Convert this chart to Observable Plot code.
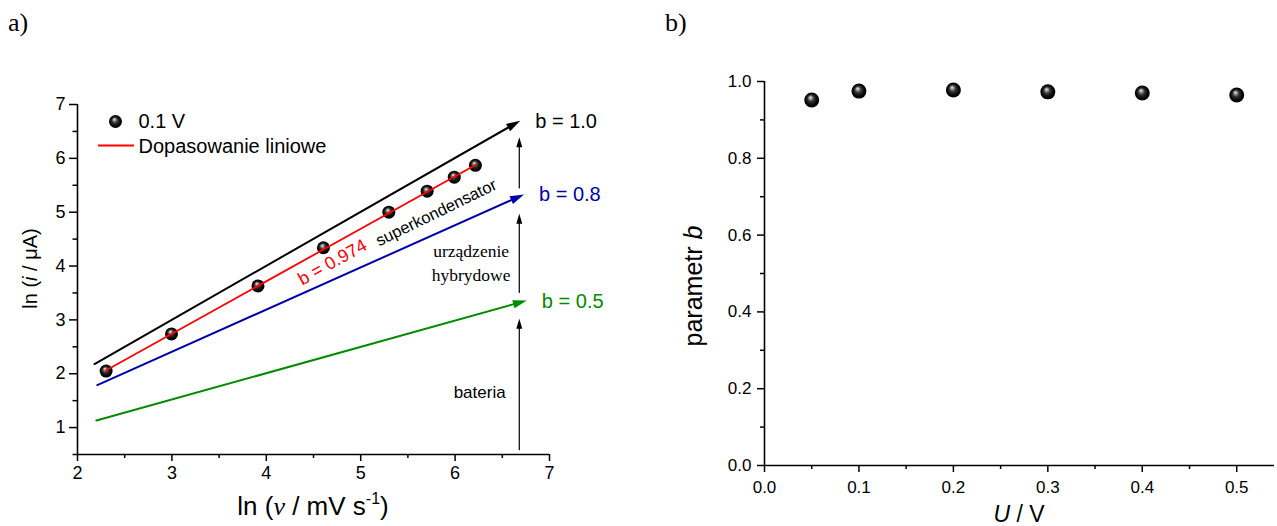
<!DOCTYPE html>
<html><head><meta charset="utf-8">
<script src="https://cdn.jsdelivr.net/npm/d3@7"></script>
<script src="https://cdn.jsdelivr.net/npm/@observablehq/plot@0.6"></script>
<style>
html,body{margin:0;padding:0;background:#fff;}
#wrap{position:relative;width:1277px;height:526px;overflow:hidden;background:#fff;}
#a,#b{position:absolute;top:0;}
#a{left:0;} #b{left:640px;}
</style></head><body>
<div id="wrap"><div id="a"></div><div id="b"></div></div>
<script>
// ---------- data: panel a ----------
const lnScanRate = [2.303, 2.996, 3.912, 4.605, 5.298, 5.704, 5.991, 6.215];
const lnCurrent  = [2.05, 2.74, 3.63, 4.34, 5.00, 5.39, 5.65, 5.87];
const fitX = [2.30, 6.22];
const fitY = [2.06, 5.88];
const fitLabel = "b = 0.974";
const refB = [1.0, 0.8, 0.5];
const refLabels = ["b = 1.0", "b = 0.8", "b = 0.5"];
const refX1 = [2.18, 2.21, 2.20];
const refY1 = [2.18, 1.79, 1.13];
const refX2 = [6.69, 6.73, 6.76];
const refY2 = [6.70, 5.33, 3.36];
const regionArrowX  = 6.68;
const regionArrowY1 = [0.59, 3.51, 5.45];
const regionArrowY2 = [3.02, 4.97, 6.39];
const xTicksA = [2, 3, 4, 5, 6, 7];
const xMinorA = [2.5, 3.5, 4.5, 5.5, 6.5];
const yTicksA = [1, 2, 3, 4, 5, 6, 7];
const yMinorA = [0.5, 1.5, 2.5, 3.5, 4.5, 5.5, 6.5];
const legendPoint = "0.1 V";
const legendFit = "Dopasowanie liniowe";

// ---------- data: panel b ----------
const voltage = [0.05, 0.1, 0.2, 0.3, 0.4, 0.5];
const paramB  = [0.952, 0.975, 0.978, 0.973, 0.970, 0.965];
const xTicksB = [0, 0.1, 0.2, 0.3, 0.4, 0.5];
const xMinorB = [0.05, 0.15, 0.25, 0.35, 0.45];
const yTicksB = [0, 0.2, 0.4, 0.6, 0.8, 1.0];
const yMinorB = [0.1, 0.3, 0.5, 0.7, 0.9];

// ---------- styling ----------
const refColors = ["#000000", "#0000a8", "#008a00"];
const SANS = "'Liberation Sans', Arial, sans-serif";
const SERIF = "'Liberation Serif', 'Times New Roman', serif";

const pointsA = lnScanRate.map((x, i) => ({x, y: lnCurrent[i]}));
const refs = refB.map((b, i) => ({b, label: refLabels[i], x1: refX1[i], y1: refY1[i], x2: refX2[i], y2: refY2[i], color: refColors[i]}));
const regionArrows = regionArrowY1.map((y1, i) => ({x: regionArrowX, y1, y2: regionArrowY2[i]}));
const pointsB = voltage.map((u, i) => ({u, b: paramB[i]}));

const headSym = (len, half) => ({draw(ctx) { ctx.moveTo(0, 0); ctx.lineTo(half, len); ctx.lineTo(-half, len); ctx.closePath(); }});
const lineSym = {draw(ctx) { ctx.moveTo(-18, 0); ctx.lineTo(18, 0); }};

// geometry of panel a (for arrowhead orientation)
const A = {w: 640, h: 526, ml: 77, mr: 91, mt: 104, mb: 72};
const sxA = Plot.scale({x: {domain: [2, 7], range: [A.ml, A.w - A.mr]}});
const syA = Plot.scale({y: {domain: [0.5, 7], range: [A.h - A.mb, A.mt]}});
const angle = (d) => Math.atan2(syA.apply(d.y2) - syA.apply(d.y1), sxA.apply(d.x2) - sxA.apply(d.x1)) * 180 / Math.PI + 90;

const plotA = Plot.plot({
  width: A.w, height: A.h, marginLeft: A.ml, marginRight: A.mr, marginTop: A.mt, marginBottom: A.mb,
  x: {domain: [2, 7]}, y: {domain: [0.5, 7]},
  style: {fontFamily: SANS, fontSize: "18px", color: "#000", background: "transparent", overflow: "visible"},
  marks: [
    Plot.ruleX([2], {y1: 0.5, y2: 7, strokeWidth: 1.6}),
    Plot.ruleY([0.5], {x1: 2, x2: 7, strokeWidth: 1.6}),
    Plot.axisX(xTicksA, {anchor: "bottom", tickSize: 7, tickPadding: 5, fontSize: 18, strokeWidth: 1.5, label: null, tickFormat: d => String(d)}),
    Plot.axisX(xMinorA, {anchor: "bottom", tickSize: 4, strokeWidth: 1.5, label: null, tickFormat: () => ""}),
    Plot.axisY(yTicksA, {anchor: "left", tickSize: 8, tickPadding: 4, fontSize: 18, strokeWidth: 1.5, label: null, tickFormat: d => String(d)}),
    Plot.axisY(yMinorA, {anchor: "left", tickSize: 4.5, strokeWidth: 1.5, label: null, tickFormat: () => ""}),
    // reference slope lines with arrowheads
    Plot.arrow(refs, {x1: "x1", y1: "y1", x2: "x2", y2: "y2", stroke: "color", strokeWidth: 2, headLength: 0, insetEnd: 8}),
    Plot.dot(refs, {x: "x2", y: "y2", fill: "color", stroke: null, symbol: headSym(14, 4.2), rotate: angle, r: 5}),
    Plot.text(refs, {x: "x2", y: "y2", text: "label", fill: "color", dx: 15, dy: 7, textAnchor: "start", lineAnchor: "bottom", fontSize: 20}),
    // vertical region arrows
    Plot.arrow(regionArrows, {x1: "x", x2: "x", y1: "y1", y2: "y2", stroke: "#000", strokeWidth: 1.2, headLength: 0, insetEnd: 6}),
    Plot.dot(regionArrows, {x: "x", y: "y2", fill: "#000", stroke: null, symbol: headSym(10, 3), r: 4}),
    // data and fit
    Plot.dot(pointsA, {x: "x", y: "y", r: 6.5, fill: "url(#ballA)", stroke: null}),
    Plot.line(fitX.map((x, i) => ({x, y: fitY[i]})), {x: "x", y: "y", stroke: "#ff0000", strokeWidth: 1.8}),
    Plot.text([fitLabel], {x: 4.70, y: 4.07, text: d => d, fill: "#ff0000", rotate: -29, fontSize: 18}),
    // region annotations
    Plot.text(["superkondensator"], {x: 5.80, y: 4.99, text: d => d, rotate: -26, fontSize: 16.5}),
    Plot.text(["urządzenie", "hybrydowe"], {x: 6.17, y: [4.16, 3.73], text: d => d, fontFamily: SERIF, fontSize: 17.5, lineAnchor: "bottom"}),
    Plot.text(["bateria"], {x: 6.26, y: 1.55, text: d => d, fontSize: 17, lineAnchor: "bottom"}),
    // legend
    Plot.dot([legendPoint], {frameAnchor: "top-left", dx: 38, dy: 17, r: 6.5, fill: "url(#ballA)", stroke: null}),
    Plot.text([legendPoint], {frameAnchor: "top-left", dx: 61, dy: 23, text: d => d, textAnchor: "start", lineAnchor: "bottom", fontSize: 20}),
    Plot.dot([legendFit], {frameAnchor: "top-left", dx: 38.5, dy: 41, symbol: lineSym, stroke: "#ff0000", strokeWidth: 1.8, fill: "none", r: 5}),
    Plot.text([legendFit], {frameAnchor: "top-left", dx: 61, dy: 48, text: d => d, textAnchor: "start", lineAnchor: "bottom", fontSize: 20})
  ]
});

const B = {w: 637, h: 526, ml: 124, mr: 3, mt: 81, mb: 61};
const fmt1 = d3.format(".1f");
const plotB = Plot.plot({
  width: B.w, height: B.h, marginLeft: B.ml, marginRight: B.mr, marginTop: B.mt, marginBottom: B.mb,
  x: {domain: [0, 0.54]}, y: {domain: [0, 1]},
  style: {fontFamily: SANS, fontSize: "17px", color: "#000", background: "transparent", overflow: "visible"},
  marks: [
    Plot.ruleX([0], {y1: 0, y2: 1, strokeWidth: 1.6}),
    Plot.ruleY([0], {x1: 0, x2: 0.54, strokeWidth: 1.6}),
    Plot.axisX(xTicksB, {anchor: "bottom", tickSize: 7, tickPadding: 8, fontSize: 17, strokeWidth: 1.5, label: null, tickFormat: fmt1}),
    Plot.axisX(xMinorB, {anchor: "bottom", tickSize: 4, strokeWidth: 1.5, label: null, tickFormat: () => ""}),
    Plot.axisY(yTicksB, {anchor: "left", tickSize: 7, tickPadding: 6, fontSize: 17, strokeWidth: 1.5, label: null, tickFormat: fmt1}),
    Plot.axisY(yMinorB, {anchor: "left", tickSize: 4, strokeWidth: 1.5, label: null, tickFormat: () => ""}),
    Plot.dot(pointsB, {x: "u", y: "b", r: 7.5, fill: "url(#ballB)", stroke: null})
  ]
});

function addBall(svg, id) {
  d3.select(svg).insert("defs", ":first-child").html(
    `<radialGradient id="${id}" cx="0.5" cy="0.5" r="0.5" fx="0.4" fy="0.32">
       <stop offset="0" stop-color="#f2f2f2"/>
       <stop offset="0.16" stop-color="#a8a8a8"/>
       <stop offset="0.45" stop-color="#303030"/>
       <stop offset="0.8" stop-color="#050505"/>
       <stop offset="1" stop-color="#000"/>
     </radialGradient>`);
}
addBall(plotA, "ballA");
addBall(plotB, "ballB");

// axis titles and panel labels (rich text)
const sa = d3.select(plotA);
const yl = sa.append("text").attr("transform", "translate(37,268.5) rotate(-90)")
  .attr("text-anchor", "middle").attr("font-family", SANS).attr("font-size", 20).attr("fill", "#000");
yl.append("tspan").text("ln (");
yl.append("tspan").attr("font-style", "italic").text("i");
yl.append("tspan").text(" / μA)");
const xl = sa.append("text").attr("x", 313).attr("y", 515)
  .attr("text-anchor", "middle").attr("font-family", SANS).attr("font-size", 26).attr("fill", "#000");
xl.append("tspan").text("ln (");
xl.append("tspan").attr("font-family", SERIF).attr("font-style", "italic").text("ν");
xl.append("tspan").text(" / mV s");
xl.append("tspan").attr("font-size", 16).attr("dy", -11).text("-1");
xl.append("tspan").attr("dy", 11).text(")");
sa.append("text").attr("x", 8).attr("y", 31).attr("text-anchor", "start").attr("font-family", SERIF).attr("font-size", 26).attr("fill", "#000").text("a)");

const sb = d3.select(plotB);
const yl2 = sb.append("text").attr("transform", "translate(62,286) rotate(-90)")
  .attr("text-anchor", "middle").attr("font-family", SANS).attr("font-size", 25).attr("fill", "#000");
yl2.append("tspan").text("parametr ");
yl2.append("tspan").attr("font-style", "italic").text("b");
const xl2 = sb.append("text").attr("x", 379).attr("y", 522)
  .attr("text-anchor", "middle").attr("font-family", SANS).attr("font-size", 23).attr("fill", "#000");
xl2.append("tspan").attr("font-style", "italic").text("U");
xl2.append("tspan").text(" / V");
sb.append("text").attr("x", 25).attr("y", 31).attr("text-anchor", "start").attr("font-family", SERIF).attr("font-size", 26).attr("fill", "#000").text("b)");

document.getElementById("a").appendChild(plotA);
document.getElementById("b").appendChild(plotB);
</script>
</body></html>
